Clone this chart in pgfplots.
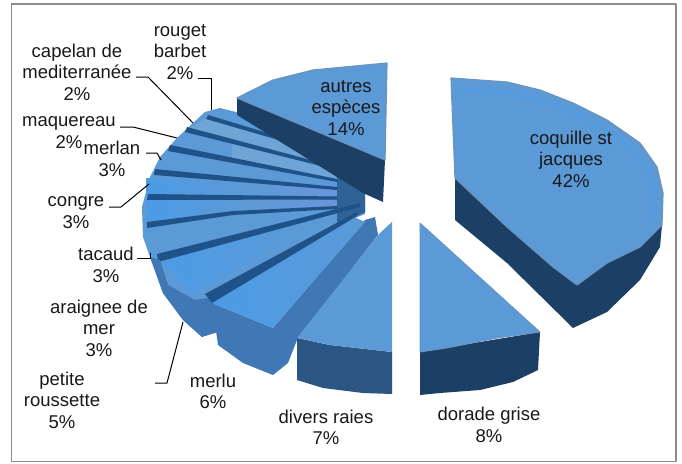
\documentclass[border=0pt]{standalone}
\usepackage{fontspec}
\setmainfont{Liberation Sans}
\usepackage{pgfplots}
\pgfplotsset{compat=1.18}

\definecolor{topface}{HTML}{5B9AD6}
\definecolor{bright}{HTML}{4C9BE6}
\definecolor{pale}{HTML}{6FA5D6}
\definecolor{peri}{HTML}{6A95DC}
\definecolor{edge}{HTML}{6B93BC}
\definecolor{navy}{HTML}{1C3F66}
\definecolor{deep}{HTML}{2B5684}
\definecolor{mid}{HTML}{3F78B4}
\definecolor{stripe}{HTML}{1F5288}
\definecolor{hub}{HTML}{2F6296}

\tikzset{lbl/.style={font=\fontsize{18.5}{21.5}\selectfont, align=center, inner sep=0pt, text=black!90}}

\begin{document}
\begin{tikzpicture}
\begin{axis}[
    scale only axis,
    width=682pt, height=463pt,
    xmin=0, xmax=682, ymin=0, ymax=463,
    y dir=reverse,
    hide axis,
    no markers,
    every axis plot/.append style={line join=round},
]

% page background, keeps the full extent
\addplot[fill=white, draw=none] coordinates {(0,0) (682,0) (682,463) (0,463)} --cycle;

% frame
\addplot[draw=black!45, line width=1.2pt, fill=white]
coordinates {(11.5,4) (676,4) (676,461.5) (11.5,461.5)} --cycle;

% stack of the small slices
\addplot[fill=topface, draw=none] coordinates {
(205,112) (220,108) (236,112) (337,170) (365,190) (365,214) (355,218) (207,298)
(202,337) (183,320) (163,293) (150,257) (143,237) (142,207) (150,177) (160,157)
(177,138) (193,123)} --cycle;

% lighter bands between the stripes
\addplot[fill=pale, draw=none] coordinates {(208,117) (337,155) (337,168) (187,130)} --cycle;
\addplot[fill=pale, draw=none] coordinates {(232,140) (337,168) (337,180) (232,160)} --cycle;
\addplot[left color=bright, right color=topface, draw=none] coordinates {(146,178) (235,182) (235,194) (146,196)} --cycle;
\addplot[left color=bright, right color=topface, draw=none] coordinates {(146,200) (235,198) (235,212) (146,222)} --cycle;
\addplot[left color=topface, right color=peri, draw=none] coordinates {(235,182) (337,186) (337,195) (235,194)} --cycle;
\addplot[left color=topface, right color=peri, draw=none] coordinates {(235,198) (337,199) (337,206) (235,212)} --cycle;
\addplot[left color=bright, right color=topface, draw=none] coordinates {(163,262) (193,293) (300,232) (240,236)} --cycle;

% block near the centre
\addplot[fill=hub, draw=none] coordinates {(337,160) (365,190) (365,212) (337,226)} --cycle;

% stripes, narrowing towards the centre
\addplot[fill=stripe, draw=none] coordinates {(208,115) (337,154) (337,157) (206,119)} --cycle;
\addplot[fill=stripe, draw=none] coordinates {(187,127) (337,167) (337,170) (185,132)} --cycle;
\addplot[fill=stripe, draw=none] coordinates {(170,145) (337,179) (337,182) (168,151)} --cycle;
\addplot[fill=stripe, draw=none] coordinates {(155,169) (337,187) (337,190) (154,175)} --cycle;
\addplot[fill=stripe, draw=none] coordinates {(148,194) (337,196.5) (337,199.5) (147,200)} --cycle;
\addplot[fill=stripe, draw=none] coordinates {(147,222) (233,211) (337,206) (337,209) (233,215) (147,228)} --cycle;
\addplot[fill=stripe, draw=none] coordinates {(157,254) (360,203) (360,207) (158,262)} --cycle;

% rim of the lower stack
\addplot[fill=mid, draw=none] coordinates {
(150,257) (160,260) (168,285) (195,300) (213,297) (218,332) (202,337) (183,320) (163,293)} --cycle;

% autres especes
\addplot[fill=navy, draw=none] coordinates {
(237,98) (237,115) (337,177) (363,193) (383,202) (385,160)} --cycle;
\addplot[fill=topface, draw=edge, line width=1.2pt] coordinates {
(387,63) (313,70) (273,80) (237,98) (385,160)} --cycle;

% coquille st jacques
\addplot[fill=navy, draw=none] coordinates {
(455,178) (455,220) (507,263) (573,328) (607,312) (640,280) (660,247) (662,225)} --cycle;
\addplot[fill=topface, draw=edge, line width=1.2pt] coordinates {
(451,78) (507,82) (540,90) (573,103) (607,120) (640,143) (657,167) (663,193) (662,225)
(640,247) (607,263) (577,285) (553,267) (507,227) (455,178)} --cycle;
\addplot[bright!60!topface, line width=3pt] coordinates {
(460,90) (507,93) (540,100) (573,112) (607,130) (632,150) (648,172) (653,193) (652,222)};

% dorade grise
\addplot[fill=navy, draw=none] coordinates {
(420,352) (420,395) (440,393) (480,390) (513,382) (538,370) (540,332)} --cycle;
\addplot[fill=topface, draw=edge, line width=0.8pt] coordinates {
(420,223) (540,332) (497,338) (447,348) (420,352)} --cycle;

% merlu
\addplot[fill=mid, draw=none] coordinates {
(375,217) (378,235) (297,340) (288,363) (273,375) (243,363) (218,345) (212,303) (273,328) (365,220)} --cycle;
\addplot[left color=bright, right color=topface, draw=none] coordinates {
(210,296) (352,216) (365,222) (273,328) (212,303)} --cycle;
\addplot[fill=stripe, draw=none] coordinates {(205,294) (357,212) (357,216) (212,303)} --cycle;

% divers raies
\addplot[fill=deep, draw=none] coordinates {
(297,338) (297,380) (323,388) (363,393) (392,394) (392,352) (330,345)} --cycle;
\addplot[fill=topface, draw=none] coordinates {
(392,222) (380,233) (297,338) (330,345) (392,352)} --cycle;

% leader lines
\addplot[black, line width=1pt] coordinates {(198,78) (211,78) (211,110)};
\addplot[black, line width=1pt] coordinates {(136,77) (148,77) (193,123)};
\addplot[black, line width=1pt] coordinates {(120,127) (133,127) (177,138)};
\addplot[black, line width=1pt] coordinates {(146,153) (157,153) (161,160)};
\addplot[black, line width=1pt] coordinates {(109,207) (121,207) (149,184)};
\addplot[black, line width=1pt] coordinates {(137,258) (150,258) (150,253)};
\addplot[black, line width=1pt] coordinates {(155,383) (167,383) (183,322)};

% labels
\node[lbl] at (axis cs:180,52) {rouget\\barbet\\2\%};
\node[lbl] at (axis cs:77,72) {capelan de\\mediterranée\\2\%};
\node[lbl] at (axis cs:69,132.5) {maquereau\\2\%};
\node[lbl] at (axis cs:112,159) {merlan\\3\%};
\node[lbl] at (axis cs:76,212.5) {congre\\3\%};
\node[lbl] at (axis cs:106,265) {tacaud\\3\%};
\node[lbl] at (axis cs:99,328) {araignee de\\mer\\3\%};
\node[lbl] at (axis cs:62,400) {petite\\roussette\\5\%};
\node[lbl] at (axis cs:213,391.5) {merlu\\6\%};
\node[lbl] at (axis cs:326,427.5) {divers raies\\7\%};
\node[lbl] at (axis cs:489,425) {dorade grise\\8\%};
\node[lbl] at (axis cs:571,159) {coquille st\\jacques\\42\%};
\node[lbl] at (axis cs:346,108) {autres\\espèces\\14\%};

\end{axis}
\end{tikzpicture}
\end{document}
